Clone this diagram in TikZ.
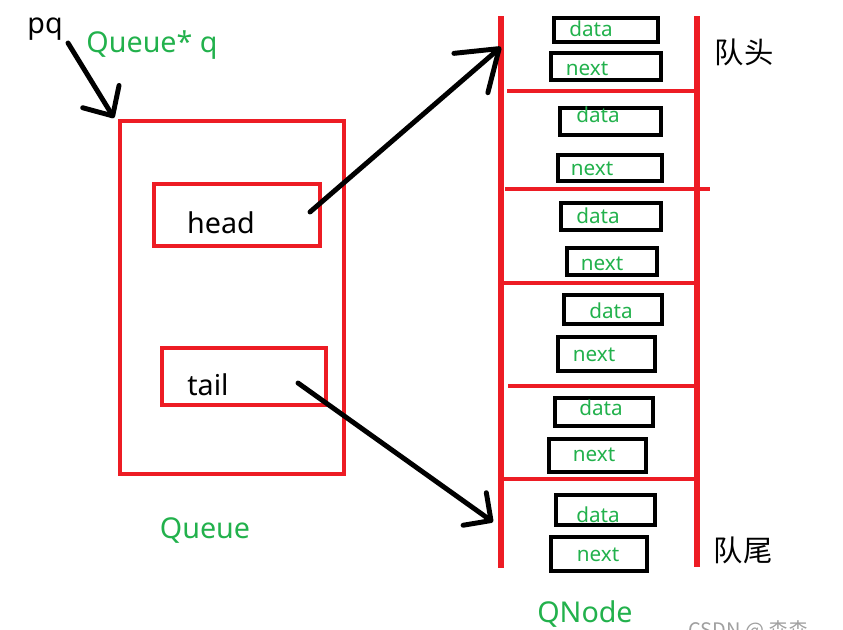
\documentclass[tikz,border=0pt]{standalone}
\usepackage{fontspec}
\setmainfont{Noto Sans}
\newfontfamily\cjk{Noto Sans CJK SC}
\usetikzlibrary{arrows.meta}
\definecolor{pred}{HTML}{ED1C24}
\definecolor{pgreen}{HTML}{22B14C}
\definecolor{wmgrey}{HTML}{A0A0A0}
\newcommand\pxbox[6]{\node[#6, minimum width={(#4-#2)*0.75pt}, minimum height={(#5-#3)*0.75pt}] (#1) at ({(#2+#4)/2},{(#3+#5)/2}) {};}
\begin{document}
\begin{tikzpicture}[x=0.75pt,y=-0.75pt,
  redbox/.style={draw=pred, line width=3.5pt, inner sep=0pt},
  blkbox/.style={draw=black, line width=3.6pt, inner sep=0pt},
  redline/.style={draw=pred, line width=3pt},
  redpost/.style={draw=pred, line width=4pt},
  bigtxt/.style={font=\fontsize{21.5}{24}\selectfont, inner sep=0pt, anchor=base},
  cjktxt/.style={font=\cjk\fontsize{22}{24}\selectfont, inner sep=0pt},
  smalltxt/.style={font=\fontsize{15.5}{18}\selectfont, text=pgreen, inner sep=0pt, anchor=base},
  ptr/.style={draw=black, line width=3.7pt, line cap=round}
]
\useasboundingbox (0,0) rectangle (843,629);

% Queue structure
\pxbox{queue}{120}{121}{344}{474}{redbox}
\pxbox{head}{154}{184}{320}{246}{redbox}
\pxbox{tail}{162}{348}{326}{405}{redbox}
\node[bigtxt] (headtxt) at (221,233) {head};
\node[bigtxt] (tailtxt) at (208,395) {tail};
\node[bigtxt, text=pgreen] (queuelbl) at (205,538) {Queue};
\node[bigtxt] (pq) at (45,33) {pq};
\node[bigtxt, text=pgreen] (qptr) at (152,52) {Queue* q};

% QNode column
\coordinate (l1) at (501,16);
\coordinate (l2) at (501,568);
\coordinate (r1) at (697,16);
\coordinate (r2) at (697,567);
\draw[redpost] (l1) -- (l2);
\draw[redpost] (r1) -- (r2);
\coordinate (s1a) at (507,91);  \coordinate (s1b) at (694,91);
\coordinate (s2a) at (505,189); \coordinate (s2b) at (710,189);
\coordinate (s3a) at (503,283); \coordinate (s3b) at (694,283);
\coordinate (s4a) at (508,386); \coordinate (s4b) at (694,386);
\coordinate (s5a) at (502,479); \coordinate (s5b) at (694,479);
\draw[redline] (s1a) -- (s1b);
\draw[redline] (s2a) -- (s2b);
\draw[redline] (s3a) -- (s3b);
\draw[redline] (s4a) -- (s4b);
\draw[redline] (s5a) -- (s5b);

\pxbox{d1}{554}{18}{658}{42}{blkbox}
\pxbox{n1}{551}{53}{661}{80}{blkbox}
\pxbox{d2}{560}{108}{661}{135}{blkbox}
\pxbox{n2}{558}{155}{662}{181}{blkbox}
\pxbox{d3}{561}{203}{661}{230}{blkbox}
\pxbox{n3}{567}{248}{657}{275}{blkbox}
\pxbox{d4}{564}{295}{662}{324}{blkbox}
\pxbox{n4}{558}{337}{655}{371}{blkbox}
\pxbox{d5}{555}{398}{653}{426}{blkbox}
\pxbox{n5}{549}{439}{646}{472}{blkbox}
\pxbox{d6}{556}{495}{655}{525}{blkbox}
\pxbox{n6}{551}{537}{647}{571}{blkbox}

\node[smalltxt] (d1t) at (591,36) {data};
\node[smalltxt] (n1t) at (587,75) {next};
\node[smalltxt] (d2t) at (598,122) {data};
\node[smalltxt] (n2t) at (592,175) {next};
\node[smalltxt] (d3t) at (598,223) {data};
\node[smalltxt] (n3t) at (602,270) {next};
\node[smalltxt] (d4t) at (611,318) {data};
\node[smalltxt] (n4t) at (594,361) {next};
\node[smalltxt] (d5t) at (601,415) {data};
\node[smalltxt] (n5t) at (594,461) {next};
\node[smalltxt] (d6t) at (598,522) {data};
\node[smalltxt] (n6t) at (598,561) {next};

\node[cjktxt] (front) at (744,52) {队头};
\node[cjktxt] (rear) at (743,550) {队尾};
\node[bigtxt, text=pgreen] (qnodelbl) at (585,622) {QNode};
\node[font=\cjk\fontsize{15}{17}\selectfont, text=wmgrey, inner sep=0pt, anchor=base west] (wm) at (688,637) {CSDN @ 森森};

% pointers
\coordinate (pqs) at (68,43);
\coordinate (pqe) at (114,118);
\coordinate (hs) at (310,212);
\coordinate (he) at (501,47);
\coordinate (ts) at (298,383);
\coordinate (te) at (493,522);
\draw[ptr, -{Straight Barb[length=17pt,width=32pt,round]}] (pqs) -- (pqe);
\draw[ptr, -{Straight Barb[length=28pt,width=39pt,round]}] (hs) -- (he);
\draw[ptr, -{Straight Barb[length=15pt,width=30pt,round]}] (ts) -- (te);
\end{tikzpicture}
\end{document}
